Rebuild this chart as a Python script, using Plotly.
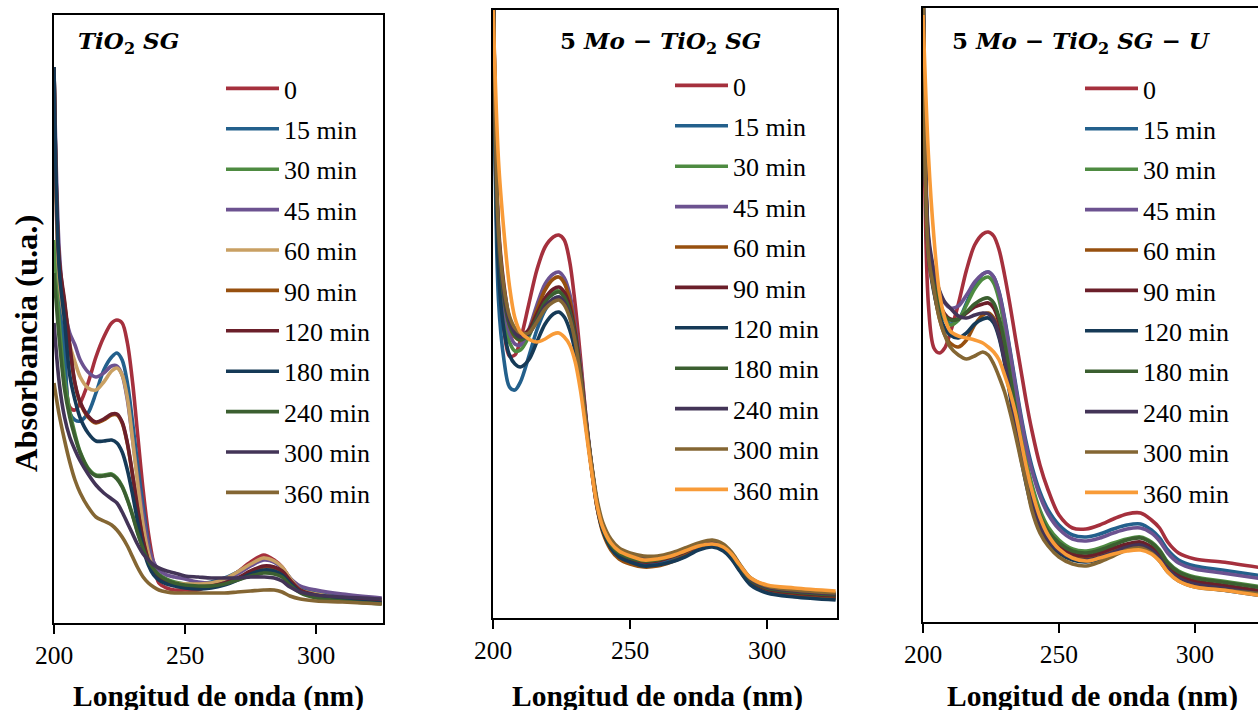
import plotly.graph_objects as go

# ---------------- data ----------------
WAVELENGTH = [200, 202, 204, 206, 208, 210, 213, 216, 219, 222, 224, 226, 228, 230, 232, 234,
              236, 238, 240, 243, 246, 250, 255, 260, 265, 270, 275, 280, 284, 287, 290, 294,
              300, 310, 325]

TIME_LABELS = ["0", "15 min", "30 min", "45 min", "60 min", "90 min", "120 min",
               "180 min", "240 min", "300 min", "360 min"]

X_TICKS = [200, 250, 300]

# Panel 1: TiO2 SG
TIO2_0 = [2.78, 1.615, 1.315, 1.08, 1.065, 1.10, 1.20, 1.33, 1.43, 1.50, 1.515, 1.50, 1.40, 1.20, 0.93, 0.665, 0.45, 0.30, 0.20, 0.175, 0.165, 0.165, 0.165, 0.19, 0.215, 0.255, 0.305, 0.34, 0.315, 0.28, 0.225, 0.165, 0.145, 0.13, 0.115]
TIO2_15 = [2.78, 1.665, 1.365, 1.05, 1.015, 1.01, 1.05, 1.15, 1.265, 1.33, 1.35, 1.315, 1.20, 1.00, 0.78, 0.58, 0.40, 0.28, 0.225, 0.20, 0.19, 0.19, 0.195, 0.205, 0.225, 0.255, 0.29, 0.32, 0.305, 0.275, 0.225, 0.175, 0.15, 0.13, 0.11]
TIO2_30 = [1.915, 1.50, 1.22, 1.06, 0.945, 0.855, 0.775, 0.74, 0.74, 0.745, 0.725, 0.685, 0.62, 0.54, 0.45, 0.375, 0.315, 0.275, 0.245, 0.22, 0.205, 0.195, 0.19, 0.19, 0.20, 0.22, 0.24, 0.255, 0.25, 0.235, 0.195, 0.155, 0.13, 0.115, 0.10]
TIO2_45 = [2.78, 1.865, 1.58, 1.45, 1.39, 1.315, 1.255, 1.23, 1.25, 1.285, 1.285, 1.24, 1.115, 0.915, 0.715, 0.54, 0.39, 0.305, 0.265, 0.24, 0.23, 0.22, 0.205, 0.20, 0.215, 0.245, 0.285, 0.315, 0.305, 0.275, 0.225, 0.185, 0.165, 0.145, 0.125]
TIO2_60 = [2.78, 1.715, 1.515, 1.39, 1.305, 1.23, 1.175, 1.165, 1.205, 1.26, 1.275, 1.24, 1.125, 0.915, 0.69, 0.49, 0.35, 0.265, 0.225, 0.205, 0.20, 0.195, 0.195, 0.20, 0.22, 0.255, 0.295, 0.325, 0.31, 0.28, 0.225, 0.165, 0.145, 0.125, 0.11]
TIO2_90 = [2.78, 1.80, 1.60, 1.38, 1.195, 1.10, 1.03, 1.00, 1.015, 1.04, 1.04, 1.0, 0.895, 0.735, 0.56, 0.41, 0.31, 0.25, 0.22, 0.20, 0.19, 0.18, 0.175, 0.18, 0.195, 0.22, 0.255, 0.28, 0.275, 0.255, 0.21, 0.16, 0.135, 0.115, 0.10]
TIO2_120 = [2.78, 1.815, 1.615, 1.39, 1.20, 1.105, 1.035, 1.005, 1.02, 1.045, 1.045, 1.005, 0.90, 0.74, 0.565, 0.415, 0.315, 0.255, 0.225, 0.205, 0.195, 0.185, 0.18, 0.185, 0.20, 0.225, 0.26, 0.285, 0.28, 0.26, 0.215, 0.165, 0.14, 0.12, 0.105]
TIO2_180 = [2.78, 1.765, 1.515, 1.24, 1.115, 1.025, 0.95, 0.91, 0.91, 0.915, 0.90, 0.855, 0.765, 0.64, 0.50, 0.375, 0.29, 0.24, 0.215, 0.195, 0.185, 0.175, 0.17, 0.175, 0.19, 0.215, 0.245, 0.265, 0.26, 0.24, 0.20, 0.155, 0.13, 0.115, 0.10]
TIO2_240 = [1.75, 1.42, 1.17, 1.03, 0.93, 0.85, 0.77, 0.735, 0.735, 0.74, 0.72, 0.68, 0.615, 0.535, 0.445, 0.37, 0.31, 0.27, 0.24, 0.215, 0.20, 0.19, 0.185, 0.185, 0.195, 0.215, 0.235, 0.25, 0.245, 0.23, 0.19, 0.15, 0.125, 0.11, 0.095]
TIO2_300 = [1.5, 1.2, 1.03, 0.93, 0.865, 0.81, 0.745, 0.69, 0.65, 0.62, 0.60, 0.555, 0.50, 0.445, 0.39, 0.345, 0.315, 0.29, 0.275, 0.26, 0.25, 0.235, 0.23, 0.225, 0.225, 0.225, 0.23, 0.23, 0.225, 0.21, 0.18, 0.155, 0.14, 0.13, 0.12]
TIO2_360 = [1.20, 1.04, 0.915, 0.805, 0.715, 0.65, 0.58, 0.53, 0.51, 0.49, 0.465, 0.43, 0.385, 0.33, 0.275, 0.23, 0.20, 0.18, 0.165, 0.155, 0.15, 0.15, 0.15, 0.15, 0.15, 0.155, 0.16, 0.165, 0.165, 0.155, 0.135, 0.12, 0.11, 0.105, 0.095]

# Panel 2: 5 Mo-TiO2 SG
MO_0 = [3.3, 1.715, 1.44, 1.31, 1.315, 1.39, 1.565, 1.74, 1.855, 1.905, 1.915, 1.89, 1.78, 1.565, 1.29, 0.99, 0.74, 0.55, 0.44, 0.355, 0.315, 0.29, 0.275, 0.28, 0.30, 0.325, 0.355, 0.37, 0.345, 0.305, 0.245, 0.175, 0.135, 0.12, 0.105]
MO_15 = [3.3, 1.59, 1.29, 1.155, 1.14, 1.18, 1.305, 1.44, 1.54, 1.595, 1.605, 1.58, 1.52, 1.40, 1.215, 0.975, 0.755, 0.565, 0.45, 0.36, 0.315, 0.29, 0.27, 0.275, 0.295, 0.32, 0.35, 0.36, 0.34, 0.30, 0.24, 0.17, 0.13, 0.11, 0.095]
MO_30 = [3.3, 1.79, 1.515, 1.38, 1.335, 1.34, 1.405, 1.505, 1.59, 1.63, 1.635, 1.61, 1.54, 1.415, 1.225, 0.98, 0.76, 0.57, 0.455, 0.365, 0.325, 0.30, 0.285, 0.29, 0.305, 0.33, 0.36, 0.375, 0.35, 0.31, 0.25, 0.18, 0.14, 0.12, 0.105]
MO_45 = [3.3, 1.84, 1.565, 1.425, 1.37, 1.365, 1.44, 1.565, 1.67, 1.72, 1.73, 1.70, 1.62, 1.465, 1.255, 0.995, 0.765, 0.575, 0.46, 0.37, 0.33, 0.305, 0.29, 0.295, 0.31, 0.335, 0.365, 0.38, 0.355, 0.315, 0.255, 0.185, 0.145, 0.125, 0.11]
MO_60 = [3.3, 1.915, 1.615, 1.465, 1.405, 1.39, 1.435, 1.54, 1.64, 1.695, 1.705, 1.675, 1.59, 1.44, 1.23, 0.97, 0.74, 0.55, 0.43, 0.34, 0.295, 0.27, 0.255, 0.26, 0.28, 0.31, 0.345, 0.36, 0.34, 0.30, 0.24, 0.17, 0.13, 0.115, 0.10]
MO_90 = [3.3, 1.965, 1.665, 1.50, 1.435, 1.415, 1.44, 1.52, 1.60, 1.645, 1.655, 1.63, 1.56, 1.425, 1.23, 0.98, 0.755, 0.565, 0.45, 0.36, 0.32, 0.295, 0.28, 0.285, 0.305, 0.33, 0.36, 0.375, 0.355, 0.315, 0.255, 0.185, 0.145, 0.125, 0.11]
MO_120 = [3.3, 1.74, 1.44, 1.315, 1.27, 1.255, 1.29, 1.38, 1.47, 1.52, 1.53, 1.505, 1.44, 1.33, 1.165, 0.95, 0.74, 0.555, 0.44, 0.35, 0.305, 0.28, 0.26, 0.265, 0.28, 0.305, 0.34, 0.355, 0.335, 0.295, 0.235, 0.165, 0.125, 0.105, 0.09]
MO_180 = [3.3, 1.89, 1.60, 1.465, 1.41, 1.39, 1.42, 1.50, 1.58, 1.62, 1.63, 1.605, 1.535, 1.405, 1.215, 0.97, 0.755, 0.57, 0.455, 0.365, 0.325, 0.30, 0.285, 0.29, 0.31, 0.335, 0.365, 0.38, 0.36, 0.32, 0.26, 0.19, 0.15, 0.13, 0.115]
MO_240 = [3.3, 1.915, 1.625, 1.485, 1.425, 1.405, 1.42, 1.485, 1.56, 1.595, 1.605, 1.58, 1.51, 1.385, 1.20, 0.965, 0.755, 0.575, 0.465, 0.38, 0.34, 0.315, 0.30, 0.305, 0.32, 0.345, 0.37, 0.385, 0.365, 0.325, 0.265, 0.195, 0.155, 0.135, 0.12]
MO_300 = [3.3, 1.94, 1.65, 1.51, 1.45, 1.425, 1.425, 1.48, 1.545, 1.58, 1.59, 1.565, 1.50, 1.38, 1.20, 0.97, 0.765, 0.59, 0.48, 0.395, 0.35, 0.325, 0.31, 0.31, 0.325, 0.35, 0.375, 0.39, 0.37, 0.33, 0.27, 0.20, 0.16, 0.14, 0.125]
MO_360 = [3.06, 2.29, 1.93, 1.66, 1.50, 1.43, 1.395, 1.38, 1.395, 1.42, 1.425, 1.405, 1.365, 1.28, 1.13, 0.93, 0.73, 0.56, 0.455, 0.375, 0.335, 0.31, 0.29, 0.295, 0.31, 0.335, 0.36, 0.37, 0.355, 0.32, 0.265, 0.20, 0.165, 0.15, 0.135]

# Panel 3: 5 Mo-TiO2 SG-U
MOU_0 = [2.9, 1.585, 1.37, 1.345, 1.37, 1.445, 1.59, 1.76, 1.885, 1.94, 1.95, 1.93, 1.86, 1.735, 1.585, 1.42, 1.26, 1.10, 0.96, 0.785, 0.66, 0.535, 0.47, 0.465, 0.485, 0.515, 0.54, 0.545, 0.51, 0.47, 0.40, 0.345, 0.315, 0.30, 0.27]
MOU_15 = [3.3, 1.86, 1.695, 1.585, 1.52, 1.49, 1.51, 1.595, 1.685, 1.74, 1.75, 1.725, 1.65, 1.52, 1.36, 1.195, 1.035, 0.895, 0.78, 0.65, 0.56, 0.485, 0.435, 0.425, 0.44, 0.465, 0.485, 0.49, 0.46, 0.42, 0.36, 0.31, 0.28, 0.26, 0.23]
MOU_30 = [3.3, 1.87, 1.69, 1.575, 1.51, 1.485, 1.51, 1.585, 1.665, 1.715, 1.725, 1.695, 1.61, 1.47, 1.30, 1.125, 0.96, 0.81, 0.69, 0.56, 0.475, 0.41, 0.365, 0.355, 0.37, 0.395, 0.415, 0.425, 0.40, 0.36, 0.30, 0.255, 0.225, 0.205, 0.175]
MOU_45 = [3.3, 1.91, 1.75, 1.65, 1.595, 1.57, 1.58, 1.635, 1.70, 1.74, 1.75, 1.725, 1.645, 1.51, 1.35, 1.18, 1.02, 0.875, 0.76, 0.63, 0.54, 0.465, 0.415, 0.405, 0.42, 0.445, 0.465, 0.47, 0.445, 0.405, 0.345, 0.295, 0.265, 0.245, 0.215]
MOU_60 = [3.3, 1.86, 1.66, 1.52, 1.435, 1.395, 1.375, 1.41, 1.485, 1.535, 1.545, 1.52, 1.44, 1.31, 1.15, 0.985, 0.835, 0.70, 0.595, 0.49, 0.415, 0.36, 0.325, 0.32, 0.335, 0.36, 0.385, 0.395, 0.37, 0.33, 0.275, 0.23, 0.20, 0.18, 0.15]
MOU_90 = [3.3, 1.885, 1.71, 1.60, 1.54, 1.515, 1.515, 1.545, 1.575, 1.59, 1.595, 1.57, 1.495, 1.37, 1.21, 1.045, 0.89, 0.75, 0.635, 0.52, 0.44, 0.38, 0.34, 0.33, 0.345, 0.37, 0.39, 0.40, 0.375, 0.335, 0.28, 0.235, 0.205, 0.185, 0.155]
MOU_120 = [3.3, 1.835, 1.65, 1.535, 1.47, 1.435, 1.42, 1.445, 1.49, 1.515, 1.52, 1.495, 1.42, 1.295, 1.135, 0.97, 0.82, 0.685, 0.575, 0.47, 0.40, 0.345, 0.31, 0.30, 0.315, 0.34, 0.365, 0.375, 0.35, 0.31, 0.255, 0.21, 0.18, 0.16, 0.13]
MOU_180 = [3.3, 1.87, 1.695, 1.585, 1.53, 1.51, 1.515, 1.55, 1.59, 1.615, 1.62, 1.595, 1.52, 1.395, 1.235, 1.065, 0.91, 0.77, 0.655, 0.535, 0.455, 0.395, 0.355, 0.345, 0.36, 0.385, 0.41, 0.42, 0.395, 0.355, 0.295, 0.25, 0.22, 0.20, 0.17]
MOU_240 = [3.3, 1.935, 1.76, 1.66, 1.60, 1.57, 1.53, 1.52, 1.535, 1.545, 1.54, 1.51, 1.43, 1.305, 1.15, 0.99, 0.84, 0.705, 0.595, 0.485, 0.41, 0.355, 0.32, 0.31, 0.325, 0.35, 0.375, 0.385, 0.36, 0.32, 0.265, 0.22, 0.19, 0.17, 0.14]
MOU_300 = [3.3, 1.835, 1.66, 1.52, 1.435, 1.375, 1.335, 1.315, 1.33, 1.35, 1.335, 1.29, 1.225, 1.15, 1.05, 0.935, 0.81, 0.69, 0.56, 0.445, 0.38, 0.325, 0.29, 0.28, 0.30, 0.33, 0.36, 0.37, 0.345, 0.305, 0.25, 0.205, 0.175, 0.16, 0.14]
MOU_360 = [3.035, 2.335, 1.925, 1.65, 1.52, 1.455, 1.43, 1.42, 1.41, 1.395, 1.375, 1.35, 1.31, 1.235, 1.15, 1.045, 0.91, 0.775, 0.66, 0.525, 0.435, 0.365, 0.32, 0.305, 0.32, 0.34, 0.355, 0.36, 0.34, 0.305, 0.25, 0.205, 0.175, 0.16, 0.13]

PANEL1_SERIES = [TIO2_0, TIO2_15, TIO2_30, TIO2_45, TIO2_60, TIO2_90, TIO2_120, TIO2_180, TIO2_240, TIO2_300, TIO2_360]
PANEL2_SERIES = [MO_0, MO_15, MO_30, MO_45, MO_60, MO_90, MO_120, MO_180, MO_240, MO_300, MO_360]
PANEL3_SERIES = [MOU_0, MOU_15, MOU_30, MOU_45, MOU_60, MOU_90, MOU_120, MOU_180, MOU_240, MOU_300, MOU_360]

# ---------------- style ----------------
COLORS_P1 = ["#A5303D", "#23608C", "#4E8B41", "#6C5290", "#C9A063", "#97500F",
             "#6B1F2A", "#163A57", "#3B5F30", "#433457", "#846633"]
COLORS_P23 = ["#A5303D", "#23608C", "#4E8B41", "#6C5290", "#97500F", "#6B1F2A",
              "#163A57", "#3B5F30", "#433457", "#846633", "#F89B38"]

W, H = 1258, 710
SERIF = "Liberation Serif"
TITLE_FONT = "DejaVu Serif"


def px(x):
    return x / W


def py(y):
    return (H - y) / H


fig = go.Figure()

panels = [
    dict(series=PANEL1_SERIES, colors=COLORS_P1, xa="x", ya="y", leg="legend"),
    dict(series=PANEL2_SERIES, colors=COLORS_P23, xa="x2", ya="y2", leg="legend2"),
    dict(series=PANEL3_SERIES, colors=COLORS_P23, xa="x3", ya="y3", leg="legend3"),
]

for i, p in enumerate(panels):
    for j, (lab, ys) in enumerate(zip(TIME_LABELS, p["series"])):
        fig.add_trace(go.Scatter(
            x=WAVELENGTH, y=ys, mode="lines", name=lab,
            line=dict(color=p["colors"][j], width=3.6, shape="spline", smoothing=0.9),
            xaxis=p["xa"], yaxis=p["ya"], legend=p["leg"],
            legendgroup=f"p{i}_{j}", showlegend=True,
            hovertemplate="%{x} nm: %{y:.3f}<extra>" + lab + "</extra>",
        ))

axis_common = dict(showgrid=False, zeroline=False, showline=True, linecolor="black",
                   linewidth=1.5, automargin=False)
xcommon = dict(axis_common, tickvals=X_TICKS, ticks="outside", ticklen=9, tickwidth=1.5,
               tickcolor="black", tickfont=dict(family=SERIF, size=25.5, color="black"))
ycommon = dict(axis_common, showticklabels=False, ticks="")

legend_common = dict(xanchor="left", yanchor="top", bgcolor="rgba(0,0,0,0)",
                     font=dict(family=SERIF, size=26, color="black"),
                     itemwidth=53, tracegroupgap=3.6, traceorder="grouped", borderwidth=0)

fig.update_layout(
    width=W, height=H, margin=dict(l=0, r=0, t=0, b=0, autoexpand=False),
    paper_bgcolor="white", plot_bgcolor="white",
    xaxis=dict(xcommon, domain=[px(54), px(383)], range=[200, 325.5], anchor="y", mirror=True),
    yaxis=dict(ycommon, domain=[py(623), py(15)], range=[0, 3.04], anchor="x", mirror=True),
    xaxis2=dict(xcommon, domain=[px(493), px(837)], range=[200, 325.5], anchor="y2", mirror=True),
    yaxis2=dict(ycommon, domain=[py(618), py(10)], range=[0, 3.04], anchor="x2", mirror=True),
    xaxis3=dict(xcommon, domain=[px(923), 1.0], range=[200, 323.2], anchor="y3", mirror=True),
    yaxis3=dict(ycommon, domain=[py(622), py(8)], range=[0, 3.07], anchor="x3", mirror=False),
    legend=dict(legend_common, x=px(221), y=py(65)),
    legend2=dict(legend_common, x=px(670), y=py(62)),
    legend3=dict(legend_common, x=px(1080), y=py(65)),
    showlegend=True,
)

titles = [
    ("<b><i>TiO</i><sub>2</sub> <i>SG</i></b>", 76),
    ("<b>5 <i>Mo</i> − <i>TiO</i><sub>2</sub> <i>SG</i></b>", 558),
    ("<b>5 <i>Mo</i> − <i>TiO</i><sub>2</sub> <i>SG</i> − <i>U</i></b>", 950),
]
for text, x0 in titles:
    fig.add_annotation(text=text, x=px(x0), y=py(42), xref="paper", yref="paper",
                       xanchor="left", yanchor="middle", showarrow=False,
                       font=dict(family=TITLE_FONT, size=23, color="black"))

for cx in (218, 657.5, 1092.5):
    fig.add_annotation(text="<b>Longitud de onda (nm)</b>", x=px(cx), y=py(696),
                       xref="paper", yref="paper", xanchor="center", yanchor="middle",
                       showarrow=False, font=dict(family=SERIF, size=29.5, color="black"))

fig.add_annotation(text="<b>Absorbancia (u.a.)</b>", x=px(26), y=py(344), xref="paper",
                   yref="paper", xanchor="center", yanchor="middle", textangle=-90,
                   showarrow=False, font=dict(family=SERIF, size=32.5, color="black"))

# remove the default page margin so the 1258x710 figure fills the window exactly
fig.write_html("out.html", config={"displayModeBar": False},
               post_script="document.body.style.margin='0px';")
